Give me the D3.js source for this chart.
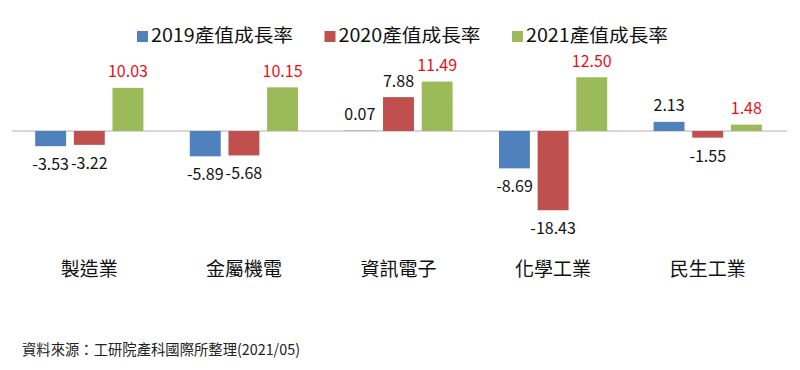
<!DOCTYPE html>
<html>
<head>
<meta charset="utf-8">
<script src="https://cdn.jsdelivr.net/npm/d3@7"></script>
<style>
    body { margin: 0; background: #fff; }
    svg { display: block; font-family: "Noto Sans CJK TC", "Noto Sans", sans-serif; }
</style>
</head>
<body>
<div id="chart"></div>
<script>
const categories = ['製造業', '金屬機電', '資訊電子', '化學工業', '民生工業'];
const seriesNames = ['2019產值成長率', '2020產值成長率', '2021產值成長率'];
const values2019 = [-3.53, -5.89, 0.07, -8.69, 2.13];
const values2020 = [-3.22, -5.68, 7.88, -18.43, -1.55];
const values2021 = [10.03, 10.15, 11.49, 12.50, 1.48];
const sourceNote = '資料來源：工研院產科國際所整理(2021/05)';

const colors = ['#4f81bd', '#c0504d', '#9bbb59'];
const labelColors = ['#111', '#111', '#e8101a'];

const w = 800, h = 370;
const series = [values2019, values2020, values2021];

const svg = d3.select('#chart')
    .append('svg')
    .attr('width', w)
    .attr('height', h);

svg.append('rect')
    .attr('width', w)
    .attr('height', h)
    .style('fill', '#fff');

const x0 = d3.scaleBand()
    .domain(categories)
    .range([12, 785])
    .paddingInner(0.25)
    .paddingOuter(0.125);

const x1 = d3.scaleBand()
    .domain(d3.range(seriesNames.length))
    .range([0, x0.bandwidth()])
    .paddingInner(0.2)
    .paddingOuter(0.1);

const y = d3.scaleLinear()
    .domain([-20, 15])
    .range([217, 66.5]);

// zero line
svg.append('line')
    .attr('x1', 12)
    .attr('x2', 787)
    .attr('y1', y(0))
    .attr('y2', y(0))
    .style('stroke', '#b0b0b0')
    .style('stroke-width', '1px');

series.forEach((vals, s) => {
    const g = svg.append('g');

    g.selectAll('rect')
        .data(vals)
        .join('rect')
        .attr('x', (d, i) => x0(categories[i]) + x1(s))
        .attr('y', d => y(Math.max(0, d)))
        .attr('width', x1.bandwidth())
        .attr('height', d => Math.abs(y(d) - y(0)))
        .style('fill', colors[s]);

    g.selectAll('text')
        .data(vals)
        .join('text')
        .attr('text-anchor', 'middle')
        .attr('x', (d, i) => x0(categories[i]) + x1(s) + x1.bandwidth() / 2)
        .attr('y', d => d >= 0 ? y(d) - 10.5 : y(d) + 24)
        .style('font-size', '16px')
        .style('fill', labelColors[s])
        .text(d => d.toFixed(2));
});

// category labels
svg.append('g')
    .selectAll('text')
    .data(categories)
    .join('text')
    .attr('text-anchor', 'middle')
    .attr('x', d => x0(d) + x0.bandwidth() / 2)
    .attr('y', 276)
    .style('font-size', '19px')
    .style('fill', '#111')
    .text(d => d);

// legend
const legend = svg.append('g')
    .selectAll('g')
    .data(seriesNames)
    .join('g')
    .attr('transform', (d, i) => `translate(${137 + i * 187.5}, 0)`);

legend.append('rect')
    .attr('x', 0)
    .attr('y', 31)
    .attr('width', 11)
    .attr('height', 11)
    .style('fill', (d, i) => colors[i]);

legend.append('text')
    .attr('x', 14)
    .attr('y', 42)
    .attr('textLength', 142)
    .attr('lengthAdjust', 'spacingAndGlyphs')
    .style('font-size', '18px')
    .style('fill', '#111')
    .text(d => d);

svg.append('text')
    .attr('x', 22)
    .attr('y', 355)
    .attr('textLength', 278)
    .attr('lengthAdjust', 'spacingAndGlyphs')
    .style('font-size', '15px')
    .style('fill', '#222')
    .text(sourceNote);
</script>
</body>
</html>
